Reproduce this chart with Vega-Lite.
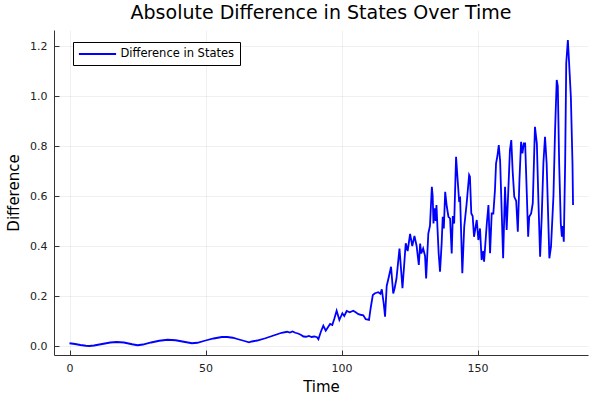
{
  "$schema": "https://vega.github.io/schema/vega-lite/v6.json",
  "width": 534,
  "height": 325,
  "autosize": {"type": "none"},
  "padding": {"left": 54, "top": 30, "right": 12, "bottom": 45},
  "background": "white",
  "config": {
    "font": "DejaVu Sans",
    "view": {"stroke": null},
    "axis": {
      "labelFont": "DejaVu Sans",
      "titleFont": "DejaVu Sans",
      "labelFontSize": 11,
      "labelColor": "#222",
      "titleFontSize": 15,
      "titleFontWeight": "normal",
      "titleColor": "#000",
      "domainColor": "#333",
      "domainWidth": 1,
      "tickColor": "#333",
      "tickSize": -5,
      "labelPadding": 12,
      "gridColor": "#000",
      "gridOpacity": 0.1,
      "gridWidth": 0.6
    },
    "title": {"font": "DejaVu Sans", "fontSize": 19, "fontWeight": "normal", "color": "#000", "offset": 7}
  },
  "title": "Absolute Difference in States Over Time",
  "data": {
    "values": [
      {"t": 0, "y": 0.011}, {"t": 2, "y": 0.008}, {"t": 4, "y": 0.004}, {"t": 6, "y": 0.001}, {"t": 7.3, "y": 0.0},
      {"t": 9, "y": 0.002}, {"t": 12, "y": 0.008}, {"t": 15, "y": 0.014}, {"t": 17.3, "y": 0.016}, {"t": 20, "y": 0.014},
      {"t": 23, "y": 0.007}, {"t": 25, "y": 0.003}, {"t": 27, "y": 0.006}, {"t": 30, "y": 0.014}, {"t": 33, "y": 0.021},
      {"t": 36, "y": 0.025}, {"t": 39, "y": 0.023}, {"t": 42, "y": 0.017}, {"t": 45, "y": 0.011}, {"t": 47, "y": 0.013},
      {"t": 50, "y": 0.022}, {"t": 53, "y": 0.03}, {"t": 56, "y": 0.036}, {"t": 58, "y": 0.036}, {"t": 60, "y": 0.033},
      {"t": 62, "y": 0.027}, {"t": 64, "y": 0.021}, {"t": 66, "y": 0.015}, {"t": 67, "y": 0.018}, {"t": 69, "y": 0.022},
      {"t": 72, "y": 0.031}, {"t": 75, "y": 0.042}, {"t": 78, "y": 0.053}, {"t": 80, "y": 0.057}, {"t": 81, "y": 0.054},
      {"t": 82, "y": 0.058}, {"t": 83, "y": 0.053}, {"t": 84, "y": 0.05}, {"t": 85, "y": 0.045}, {"t": 86, "y": 0.038},
      {"t": 87, "y": 0.037}, {"t": 88, "y": 0.04}, {"t": 89, "y": 0.036}, {"t": 90, "y": 0.038}, {"t": 91, "y": 0.035},
      {"t": 91.5, "y": 0.027}, {"t": 92.4, "y": 0.057}, {"t": 93.3, "y": 0.081}, {"t": 94.2, "y": 0.061}, {"t": 95, "y": 0.075},
      {"t": 95.8, "y": 0.088}, {"t": 96.6, "y": 0.084}, {"t": 97.4, "y": 0.111}, {"t": 98.2, "y": 0.141}, {"t": 99.2, "y": 0.104},
      {"t": 100.3, "y": 0.131}, {"t": 101, "y": 0.12}, {"t": 101.9, "y": 0.14}, {"t": 103, "y": 0.135}, {"t": 104.3, "y": 0.141},
      {"t": 105.2, "y": 0.135}, {"t": 106.2, "y": 0.127}, {"t": 107, "y": 0.125}, {"t": 108, "y": 0.123}, {"t": 108.9, "y": 0.107},
      {"t": 110.1, "y": 0.104}, {"t": 110.7, "y": 0.151}, {"t": 111.5, "y": 0.204}, {"t": 112.3, "y": 0.211}, {"t": 113.5, "y": 0.215},
      {"t": 114.3, "y": 0.209}, {"t": 114.8, "y": 0.227}, {"t": 115.5, "y": 0.17}, {"t": 116, "y": 0.117}, {"t": 116.6, "y": 0.24},
      {"t": 117.4, "y": 0.277}, {"t": 118.2, "y": 0.317}, {"t": 119, "y": 0.21}, {"t": 119.5, "y": 0.23}, {"t": 120.2, "y": 0.27},
      {"t": 121.3, "y": 0.39}, {"t": 122.4, "y": 0.231}, {"t": 123.6, "y": 0.411}, {"t": 124.3, "y": 0.38}, {"t": 125.2, "y": 0.448},
      {"t": 126, "y": 0.4}, {"t": 126.8, "y": 0.44}, {"t": 127.6, "y": 0.4}, {"t": 128.4, "y": 0.324}, {"t": 128.9, "y": 0.41},
      {"t": 129.3, "y": 0.37}, {"t": 130, "y": 0.39}, {"t": 130.7, "y": 0.36}, {"t": 131.1, "y": 0.27}, {"t": 131.9, "y": 0.45},
      {"t": 132.5, "y": 0.48}, {"t": 133.2, "y": 0.637}, {"t": 133.5, "y": 0.6}, {"t": 133.8, "y": 0.49}, {"t": 134.2, "y": 0.551},
      {"t": 134.6, "y": 0.5}, {"t": 134.9, "y": 0.564}, {"t": 135.3, "y": 0.464}, {"t": 135.7, "y": 0.371}, {"t": 136.2, "y": 0.297},
      {"t": 136.8, "y": 0.41}, {"t": 137.2, "y": 0.517}, {"t": 137.6, "y": 0.47}, {"t": 138.1, "y": 0.617}, {"t": 138.7, "y": 0.557},
      {"t": 139.3, "y": 0.517}, {"t": 139.9, "y": 0.51}, {"t": 140.5, "y": 0.37}, {"t": 140.9, "y": 0.52}, {"t": 141.4, "y": 0.49},
      {"t": 142.1, "y": 0.757}, {"t": 142.6, "y": 0.677}, {"t": 143.2, "y": 0.584}, {"t": 143.6, "y": 0.59}, {"t": 144.4, "y": 0.291},
      {"t": 145.1, "y": 0.477}, {"t": 146, "y": 0.571}, {"t": 146.9, "y": 0.684}, {"t": 147.2, "y": 0.677}, {"t": 147.7, "y": 0.53},
      {"t": 148.2, "y": 0.52}, {"t": 148.7, "y": 0.437}, {"t": 149.7, "y": 0.504}, {"t": 150.3, "y": 0.424}, {"t": 150.9, "y": 0.47},
      {"t": 151.5, "y": 0.344}, {"t": 152.1, "y": 0.38}, {"t": 152.4, "y": 0.337}, {"t": 153.4, "y": 0.49}, {"t": 154, "y": 0.564},
      {"t": 154.6, "y": 0.371}, {"t": 155.2, "y": 0.53}, {"t": 155.8, "y": 0.53}, {"t": 156.4, "y": 0.624}, {"t": 156.8, "y": 0.731},
      {"t": 157.3, "y": 0.76}, {"t": 157.8, "y": 0.804}, {"t": 158.3, "y": 0.74}, {"t": 159.4, "y": 0.351}, {"t": 160.1, "y": 0.637},
      {"t": 160.7, "y": 0.464}, {"t": 161.3, "y": 0.62}, {"t": 161.9, "y": 0.784}, {"t": 162.4, "y": 0.824}, {"t": 162.9, "y": 0.7},
      {"t": 163.5, "y": 0.597}, {"t": 164.2, "y": 0.58}, {"t": 164.8, "y": 0.457}, {"t": 165.4, "y": 0.664}, {"t": 166, "y": 0.817},
      {"t": 166.5, "y": 0.77}, {"t": 167, "y": 0.81}, {"t": 167.5, "y": 0.81}, {"t": 168.1, "y": 0.61}, {"t": 168.6, "y": 0.437},
      {"t": 169, "y": 0.517}, {"t": 169.7, "y": 0.53}, {"t": 170.3, "y": 0.571}, {"t": 171.1, "y": 0.877}, {"t": 171.8, "y": 0.81},
      {"t": 172.4, "y": 0.57}, {"t": 173, "y": 0.357}, {"t": 173.6, "y": 0.52}, {"t": 174.2, "y": 0.731}, {"t": 174.8, "y": 0.837},
      {"t": 175.4, "y": 0.73}, {"t": 176.4, "y": 0.351}, {"t": 177, "y": 0.397}, {"t": 177.9, "y": 0.6}, {"t": 178.5, "y": 0.864},
      {"t": 179.1, "y": 1.064}, {"t": 179.5, "y": 1.04}, {"t": 180, "y": 0.731}, {"t": 180.6, "y": 0.49}, {"t": 181, "y": 0.437},
      {"t": 181.3, "y": 0.48}, {"t": 181.7, "y": 0.417}, {"t": 182.2, "y": 0.73}, {"t": 182.6, "y": 1.131}, {"t": 183.2, "y": 1.224},
      {"t": 183.6, "y": 1.144}, {"t": 184.3, "y": 0.997}, {"t": 184.9, "y": 0.73}, {"t": 185.1, "y": 0.564}
    ]
  },
  "transform": [{"calculate": "'Difference in States'", "as": "series"}],
  "mark": {"type": "line", "strokeWidth": 1.8, "interpolate": "linear", "clip": true},
  "encoding": {
    "x": {
      "field": "t", "type": "quantitative", "title": "Time",
      "scale": {"domain": [-5.7, 190.6], "nice": false, "zero": false},
      "axis": {"values": [0, 50, 100, 150], "titlePadding": 6}
    },
    "y": {
      "field": "y", "type": "quantitative", "title": "Difference",
      "scale": {"domain": [-0.036, 1.264], "nice": false, "zero": false},
      "axis": {"values": [0, 0.2, 0.4, 0.6, 0.8, 1.0, 1.2], "format": ".1f", "titlePadding": 8}
    },
    "color": {
      "field": "series", "type": "nominal",
      "scale": {"domain": ["Difference in States"], "range": ["#0000ff"]},
      "legend": {
        "title": null, "orient": "none", "legendX": 19, "legendY": 12,
        "symbolType": "M-3.1,0H3.1", "symbolSize": 144, "symbolStrokeWidth": 1.8, "symbolOffset": 12.5,
        "labelFontSize": 11.5, "labelFont": "DejaVu Sans", "labelColor": "#000", "labelOffset": 16,
        "fillColor": "white", "strokeColor": "#000", "padding": 5, "cornerRadius": 0
      }
    }
  }
}
